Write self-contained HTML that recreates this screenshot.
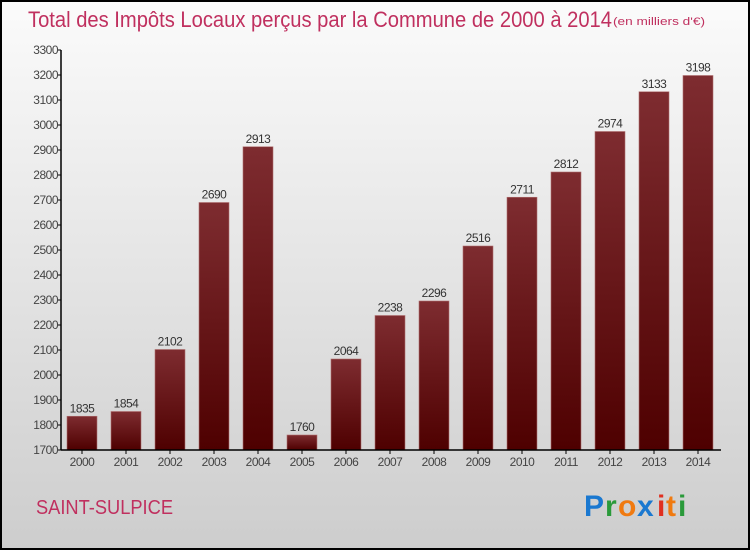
<!DOCTYPE html>
<html><head><meta charset="utf-8"><style>
body{margin:0;width:750px;height:550px;overflow:hidden;font-family:"Liberation Sans",sans-serif}
</style></head><body>
<svg width="750" height="550" xmlns="http://www.w3.org/2000/svg">
<defs>
<linearGradient id="bg" x1="0" y1="0" x2="0" y2="1"><stop offset="0" stop-color="#fbfbfb"/><stop offset="1" stop-color="#cdcdcd"/></linearGradient>
<linearGradient id="bar" x1="0" y1="0" x2="0" y2="1"><stop offset="0" stop-color="#7e2c30"/><stop offset="1" stop-color="#4e0000"/></linearGradient>
</defs>
<rect x="1" y="1" width="748" height="548" fill="url(#bg)" stroke="#000" stroke-width="2"/>
<text x="28" y="27" font-size="22" fill="#c0305f" textLength="584" lengthAdjust="spacingAndGlyphs">Total des Impôts Locaux perçus par la Commune de 2000 à 2014</text>
<text x="613" y="25" font-size="11" fill="#c0305f" textLength="92" lengthAdjust="spacingAndGlyphs">(en milliers d'€)</text>
<g id="yaxis"></g>
<g id="bars"></g>
<g id="xaxis"></g>
<text x="36" y="514" font-size="20" fill="#c0305f" textLength="137" lengthAdjust="spacingAndGlyphs">SAINT-SULPICE</text>
<g font-size="30" font-weight="bold">
<text x="584" y="516" fill="#1a78d0">P</text><text x="605" y="516" fill="#2a9a3a">r</text><text x="618" y="516" fill="#f07a10">o</text><text x="637" y="516" fill="#1a78d0">x</text><text x="657" y="516" fill="#e03020">i</text><text x="666" y="516" fill="#f07a10">t</text><text x="678" y="516" fill="#2a9a3a">i</text>
</g>
</svg>
<script>
const years=["2000","2001","2002","2003","2004","2005","2006","2007","2008","2009","2010","2011","2012","2013","2014"];
const values=[1835,1854,2102,2690,2913,1760,2064,2238,2296,2516,2711,2812,2974,3133,3198];
const yTicks=[1700,1800,1900,2000,2100,2200,2300,2400,2500,2600,2700,2800,2900,3000,3100,3200,3300];
const NS="http://www.w3.org/2000/svg";
const yMin=1700,yMax=3300,plotTop=50,plotBot=450,plotLeft=61,plotRight=721;
function yS(v){return plotBot-(v-yMin)/(yMax-yMin)*(plotBot-plotTop);}
function xS(i){return 82+i*44;}
function mk(t,a,p){const e=document.createElementNS(NS,t);for(const k in a)e.setAttribute(k,a[k]);p.appendChild(e);return e;}
const ya=document.getElementById('yaxis'),xa=document.getElementById('xaxis'),bg=document.getElementById('bars');
mk('line',{x1:plotLeft,y1:plotTop,x2:plotLeft,y2:plotBot,stroke:'#000','stroke-width':1.5},ya);
yTicks.forEach(v=>{
 const l=mk('line',{x1:plotLeft-4,y1:yS(v),x2:plotLeft,y2:yS(v),stroke:'#000'},ya);
 
 
 const t=mk('text',{x:plotLeft-3,y:yS(v)+4,'text-anchor':'end','font-size':12,fill:'#444','letter-spacing':'-0.5'},ya);
 t.textContent=v;
 
 
});
mk('line',{x1:plotLeft,y1:plotBot,x2:plotRight,y2:plotBot,stroke:'#000','stroke-width':1.5},xa);
values.forEach((v,i)=>{
 const cx=xS(i);
 const r=mk('rect',{x:cx-15,y:yS(v),width:30,height:plotBot-yS(v),fill:'url(#bar)',stroke:'#b07070','stroke-width':0.6},bg);
 
 
 const t=mk('text',{x:cx,y:yS(v)-4,'text-anchor':'middle','font-size':12,fill:'#333','letter-spacing':'-0.5'},bg);
 t.textContent=v;
 
 
 mk('line',{x1:cx,y1:plotBot,x2:cx,y2:plotBot+4,stroke:'#000'},xa);
 const xt=mk('text',{x:cx,y:plotBot+16,'text-anchor':'middle','font-size':12,fill:'#444','letter-spacing':'-0.5'},xa);
 xt.textContent=years[i];
 
 
});
</script>
</body></html>
